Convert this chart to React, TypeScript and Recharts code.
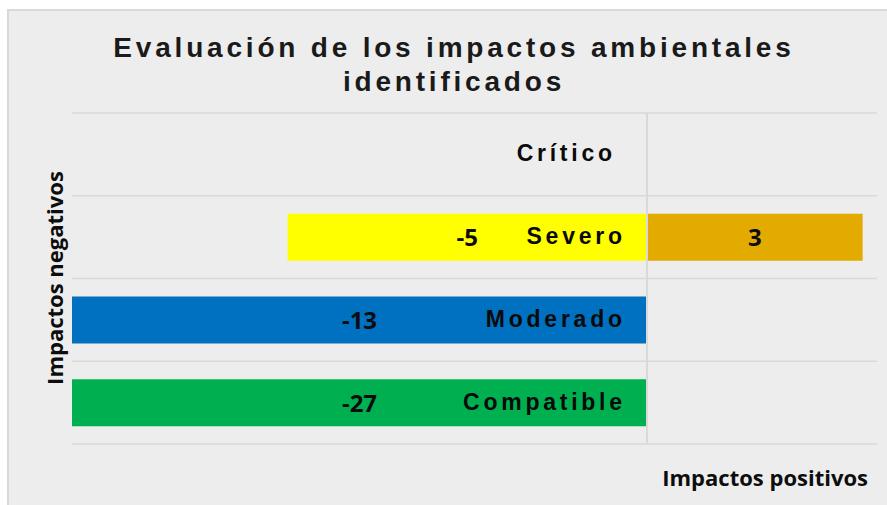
import { Bar, BarChart, CartesianGrid, Cell, LabelList, ReferenceLine, XAxis, YAxis } from 'recharts';

const categories = ['Crítico', 'Severo', 'Moderado', 'Compatible'];
const negativos = [null, -5, -13, -27];
const positivos = [null, 3, null, null];
const negColors = ['#C00000', '#FFFF00', '#0070C0', '#00B050'];
const posColor = '#E3AA00';

const X_DOMAIN = [-8, 3.2];

const data = categories.map((name, i) => ({
    name,
    negativo: negativos[i],
    positivo: positivos[i],
}));

const WIDTH = 887;
const HEIGHT = 505;
const MARGIN = { top: 113, right: 10, bottom: 61, left: 71 };
const Y_AXIS_WIDTH = 1;
const PLOT_LEFT = MARGIN.left + Y_AXIS_WIDTH;
// x of the zero line, from the plot area and the axis domain
const ZERO_X = PLOT_LEFT + ((0 - X_DOMAIN[0]) / (X_DOMAIN[1] - X_DOMAIN[0])) * (WIDTH - PLOT_LEFT - MARGIN.right);
const NAME_INSET = [35, 25, 25, 25];

const valueFont = { fontFamily: '"Open Sans", sans-serif', fontWeight: 700, fontSize: 24, fill: '#0d0d0d' };
const nameFont = { fontFamily: '"Liberation Sans", Arial, sans-serif', fontWeight: 700, fontSize: 23, letterSpacing: 3.75, fill: '#0a0a0a' };

const renderNameTick = (props: any) => {
    const { y, payload } = props;
    const i = categories.indexOf(payload.value);
    return (
        <text x={ZERO_X - NAME_INSET[i] + 3.75} y={y + 7} textAnchor="end" style={nameFont}>
            {payload.value}
        </text>
    );
};

const ValueLabel = (props: any) => {
    const { x, y, width, height, value } = props;
    if (value == null) return null;
    const left = Math.max(Math.min(x, x + width), PLOT_LEFT);
    const right = Math.max(x, x + width);
    return (
        <text x={(left + right) / 2} y={y + height / 2 + 9} textAnchor="middle" style={valueFont}>
            {value}
        </text>
    );
};

const App = () => {
    return (
        <div style={{ position: 'absolute', left: 0, top: 0, width: WIDTH, height: HEIGHT, background: '#fff', overflow: 'hidden' }}>
            <div style={{ position: 'absolute', left: 7, top: 9, width: 900, height: 520, background: '#ededed', border: '2px solid #d9d9d9', boxSizing: 'border-box' }} />
            <div style={{ position: 'absolute', left: 0, top: 0 }}>
                <BarChart width={WIDTH} height={HEIGHT} data={data} layout="vertical" stackOffset="sign" margin={MARGIN}>
                    <CartesianGrid
                        vertical={false}
                        stroke="#d9d9d9"
                        strokeWidth={1.5}
                        horizontalCoordinatesGenerator={({ offset }: any) =>
                            [...categories.map((_, i) => offset.top + (i * offset.height) / categories.length), offset.top + offset.height]
                        }
                    />
                    <XAxis type="number" domain={X_DOMAIN} allowDataOverflow hide />
                    <Bar dataKey="negativo" stackId="a" barSize={47} isAnimationActive={false}>
                        {data.map((entry, i) => (
                            <Cell key={`neg-${i}`} fill={negColors[i]} />
                        ))}
                        <LabelList dataKey="negativo" content={ValueLabel} />
                    </Bar>
                    <Bar dataKey="positivo" stackId="a" barSize={47} fill={posColor} isAnimationActive={false}>
                        <LabelList dataKey="positivo" content={ValueLabel} />
                    </Bar>
                    <ReferenceLine x={0} stroke="#d9d9d9" strokeWidth={2} />
                    <YAxis
                        type="category"
                        dataKey="name"
                        width={Y_AXIS_WIDTH}
                        interval={0}
                        axisLine={false}
                        tickLine={false}
                        tick={renderNameTick}
                    />
                </BarChart>
            </div>
            <svg width={WIDTH} height={HEIGHT} style={{ position: 'absolute', left: 0, top: 0, pointerEvents: 'none' }}>
                <g style={{ fontFamily: '"Liberation Sans", Arial, sans-serif', fontWeight: 700, fontSize: 28, letterSpacing: 3.8, fill: '#1a1a1a' }}>
                    <text x={454} y={57} textAnchor="middle">Evaluación de los impactos ambientales</text>
                    <text x={454} y={91} textAnchor="middle">identificados</text>
                </g>
                <g style={{ fontFamily: '"Open Sans", sans-serif', fontWeight: 700, fontSize: 22, fill: '#0d0d0d' }}>
                    <text x={868} y={486} textAnchor="end">Impactos positivos</text>
                    <text x={62.5} y={278} textAnchor="middle" transform="rotate(-90 62.5 278)">Impactos negativos</text>
                </g>
            </svg>
        </div>
    );
};

export default App;
